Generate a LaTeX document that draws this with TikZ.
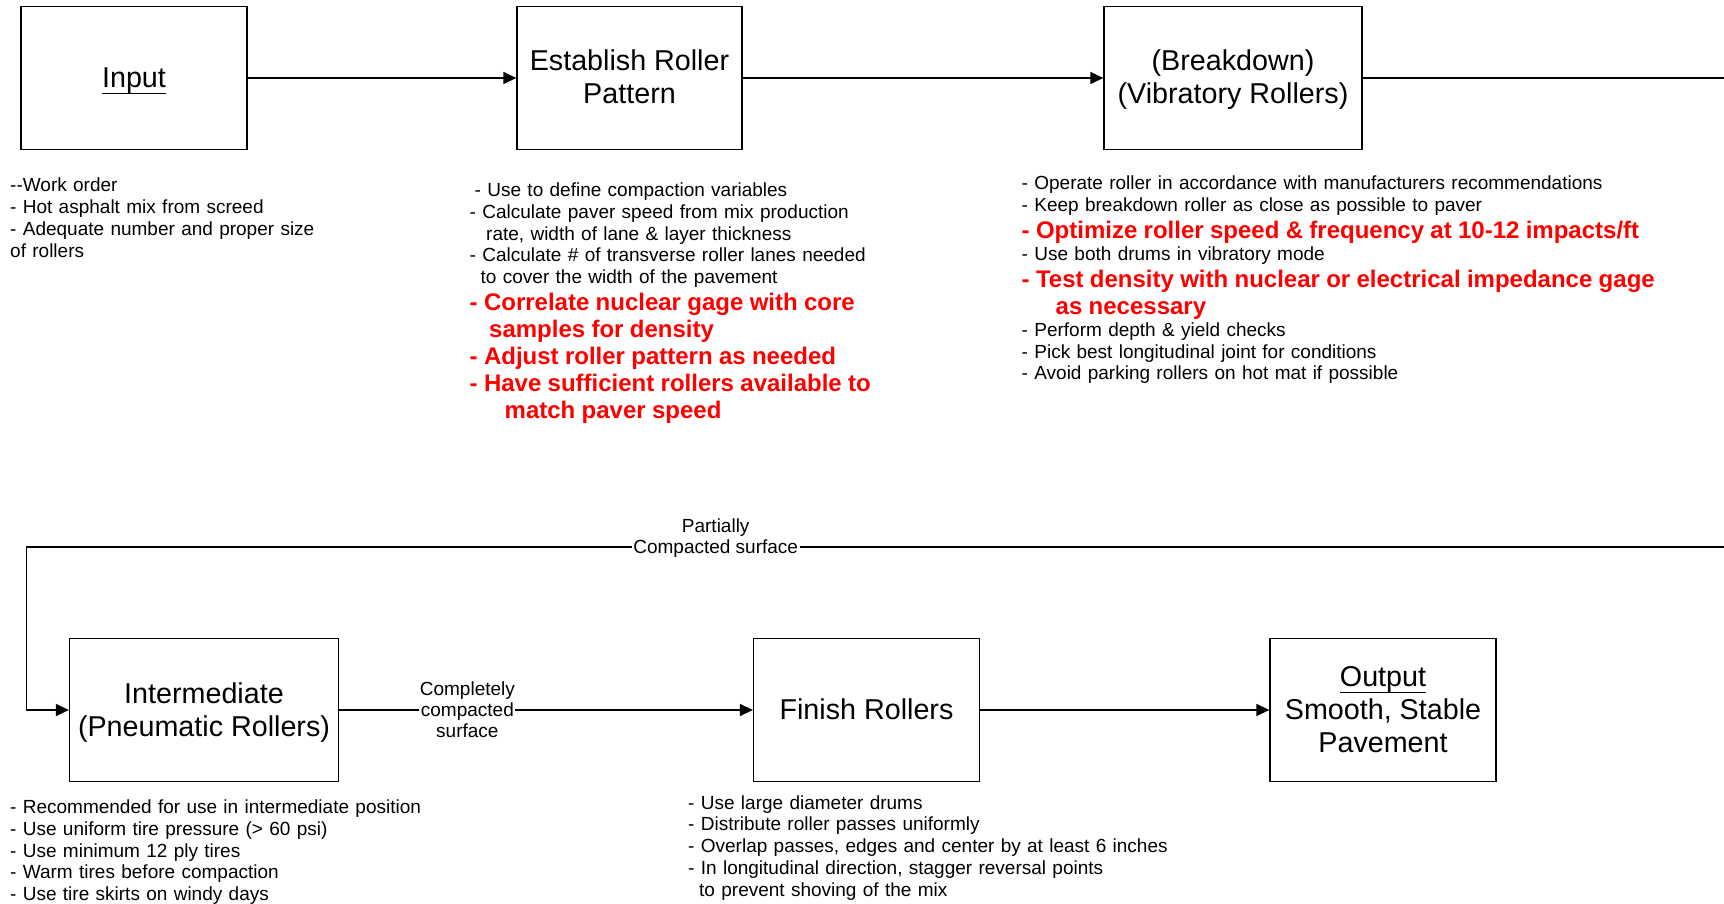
\documentclass[tikz,border=0pt]{standalone}
\usepackage{fontspec}
\setmainfont{Liberation Sans}
\usetikzlibrary{arrows.meta}

\newcommand{\note}{\fontsize{19}{21.8}\selectfont}
\newcommand{\hot}{\color{red}\bfseries\fontsize{24}{27}\selectfont}
% even line boxes in the stages
\newcommand{\ls}{\rule[-7pt]{0pt}{33pt}}
\newsavebox{\ulbox}
\newcommand{\under}[1]{\sbox{\ulbox}{#1}\rlap{\rule[-0.23em]{\wd\ulbox}{0.045em}}\usebox{\ulbox}}

\tikzset{
  stage/.style={draw, line width=1.3pt, minimum height=143pt, inner sep=2pt,
    align=center, font=\fontsize{28.7}{33}\selectfont},
  arr/.style={line width=1.3pt, -{Triangle[length=13pt,width=12pt]}},
  notes/.style={anchor=base west, inner sep=0pt, text width=#1, align=left,
    font=\note, execute at begin node={\setlength{\parindent}{0pt}}},
  lbl/.style={font=\note, fill=white, inner sep=1.5pt, text height=15.5pt, text depth=2.5pt}
}

\begin{document}
\begin{tikzpicture}[x=1pt,y=-1pt]
\useasboundingbox (0,0) rectangle (1724,904);
% stages
\node[stage, minimum width=226pt] (inp) at (134,78) {\ls\under{Input}};
\node[stage, minimum width=225pt] (est) at (629.5,78) {\ls Establish Roller\\\ls Pattern};
\node[stage, minimum width=258pt] (brk) at (1233,78) {\ls(Breakdown)\\\ls(Vibratory Rollers)};
\node[stage, minimum width=269pt] (int) at (204,710) {\ls Intermediate\\\ls(Pneumatic Rollers)};
\node[stage, minimum width=226pt] (fin) at (866.5,710) {\ls Finish Rollers};
\node[stage, minimum width=226pt] (outp) at (1383,710) {\ls\under{Output}\\\ls Smooth, Stable\\\ls Pavement};

% connectors
\coordinate (rt) at (1724,78);
\coordinate (rb) at (1724,547);
\coordinate (lb) at (26.5,547);
\foreach \a/\b in {inp/est, est/brk, fin/outp}
  \draw[arr] (\a) -- (\b);
\draw[line width=1.3pt] (brk) -- (rt);
\draw[arr] (rb) -- node[lbl, pos=0.594, label={[lbl, fill=none, label distance=-1.2pt]above:Partially}] (pc) {Compacted surface} (lb) |- (int);
\draw[arr] (int) -- node[lbl, pos=0.31, label={[lbl, fill=none, label distance=-1.2pt]above:Completely},
  label={[lbl, fill=none, label distance=-1.2pt]below:surface}] (cc) {compacted} (fin);

% notes
\node[notes=440pt] (inpn) at (10,192) {-{}-Work order\par
  - Hot asphalt mix from screed\par
  - Adequate number and proper size\par
  of rollers};
\node[notes=480pt] (estn) at (469.5,196.5) {\hspace*{5pt}- Use to define compaction variables\par
  - Calculate paver speed from mix production\\\hspace*{16.5pt}rate, width of lane \& layer thickness\par
  - Calculate \# of transverse roller lanes needed\\\hspace*{11pt}to cover the width of the pavement\par
  {\hot - Correlate nuclear gage with core\\\hspace*{19.5pt}samples for density\par
  - Adjust roller pattern as needed\par
  - Have sufficient rollers available to\\\hspace*{35pt}match paver speed\par}};
\node[notes=690pt] (brkn) at (1021.5,190) {- Operate roller in accordance with manufacturers recommendations\par
  - Keep breakdown roller as close as possible to paver\par
  {\hot - Optimize roller speed \& frequency at 10-12 impacts/ft\par}
  - Use both drums in vibratory mode\par
  {\hot - Test density with nuclear or electrical impedance gage\\\hspace*{34pt}as necessary\par}
  - Perform depth \& yield checks\par
  - Pick best longitudinal joint for conditions\par
  - Avoid parking rollers on hot mat if possible};
\node[notes=480pt] (intn) at (10,813.5) {- Recommended for use in intermediate position\par
  - Use uniform tire pressure (> 60 psi)\par
  - Use minimum 12 ply tires\par
  - Warm tires before compaction\par
  - Use tire skirts on windy days};
\node[notes=520pt] (finn) at (688,809) {- Use large diameter drums\par
  - Distribute roller passes uniformly\par
  - Overlap passes, edges and center by at least 6 inches\par
  - In longitudinal direction, stagger reversal points\\\hspace*{11pt}to prevent shoving of the mix};
\end{tikzpicture}
\end{document}
